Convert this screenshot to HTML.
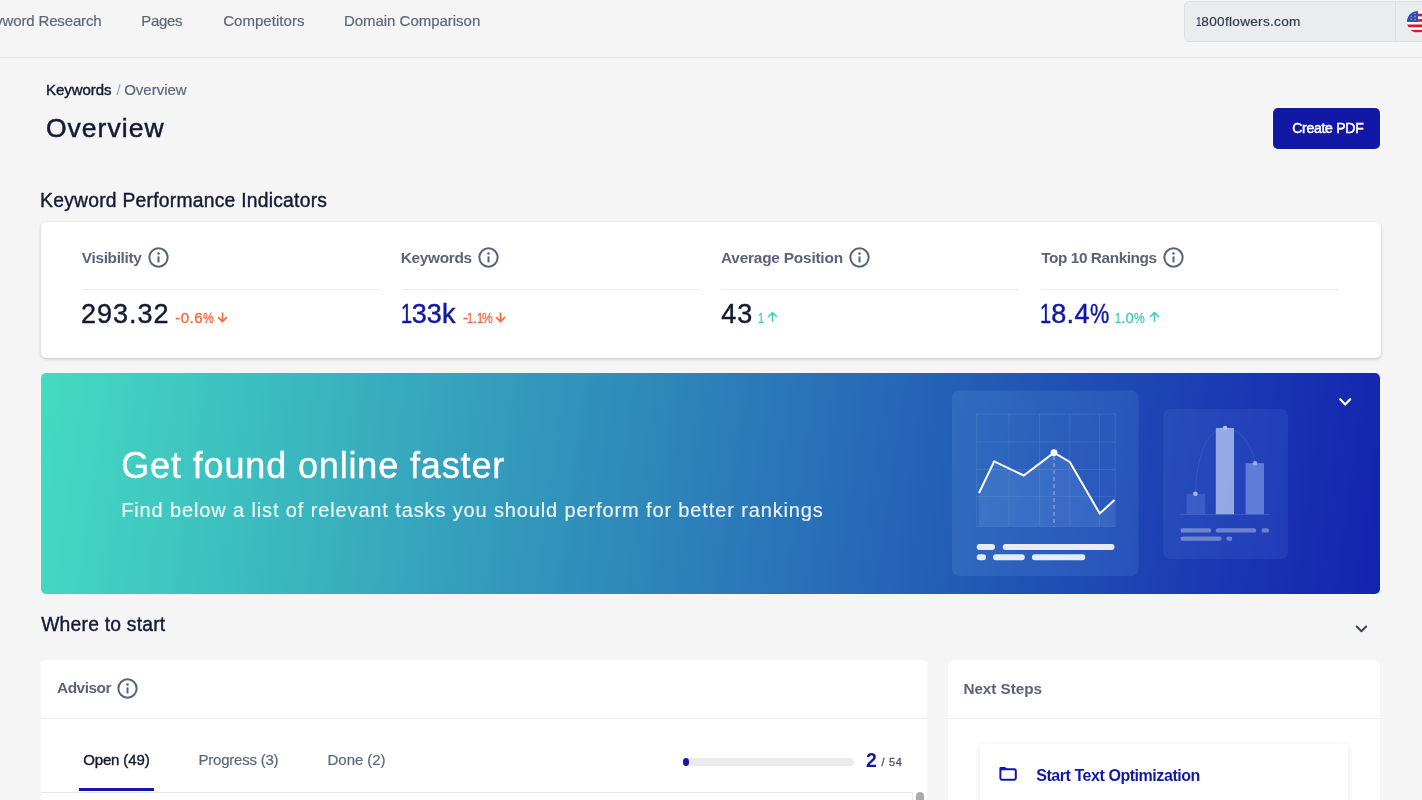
<!DOCTYPE html>
<html lang="en"><head><meta charset="utf-8"><title>Overview - Keywords</title>
<style>
*{margin:0;padding:0;box-sizing:border-box}
html,body{width:1422px;height:800px;overflow:hidden;background:#f5f5f5}
body{font-family:"Liberation Sans",sans-serif}
#app{position:relative;width:1422px;height:800px;overflow:hidden;background:#f5f5f5}
#app>*{position:absolute}
.t{white-space:nowrap;line-height:1.2;display:block;font-weight:400;text-decoration:none}
.pb{display:inline-block;width:0;height:0}
.navline{left:0;top:57px;width:1422px;height:1px;background:#e1e5e8}
.domain{left:1184px;top:1px;width:260px;height:40.5px;background:#ebecee;border:1px solid #dcdfe3;border-radius:5px}
.domain i{position:absolute;left:209.5px;top:0;width:1px;height:39px;background:#dcdfe3}
.flag{left:1407px;top:10.8px;width:21.6px;height:21.6px}
.btn{left:1272.7px;top:108px;width:107px;height:41px;background:#1218a6;border-radius:5px;box-shadow:0 0 0 1px rgba(255,255,255,.6)}
.card{background:#fff;border-radius:5px}
.kpi{left:41px;top:222px;width:1340px;height:136.4px;box-shadow:0 1px 3px rgba(20,25,50,.24)}
.hr{height:1px;background:#e9ebee}
.hero{left:41.2px;top:372.8px;width:1339.3px;height:221.2px;border-radius:5px;background:linear-gradient(98deg,#44dbc2 0%,#1422b0 100%);overflow:hidden}
.advisor{left:41.4px;top:660px;width:885.6px;height:160px}
.next{left:948px;top:660px;width:432px;height:160px}
.inner{left:980px;top:744px;width:368px;height:80px;border-radius:4px;background:#fff;box-shadow:0 1px 6px rgba(0,0,0,.09)}
.tabline{left:78.7px;top:788.4px;width:75.8px;height:2.8px;background:#1218a6}
.prog{left:683px;top:758px;width:171px;height:8px;border-radius:4px;background:#e9ebee}
.prog i{position:absolute;left:0;top:0;width:6.4px;height:8px;border-radius:3.2px/4px;background:#1218a6}
svg{position:absolute;overflow:visible}
.n1{font-weight:inherit;display:inline-block;transform:scaleX(.74);margin:0 -0.09em 0 -0.075em}
.pc{font-weight:inherit;display:inline-block;transform:scaleX(.8);transform-origin:0 50%;margin-right:-0.178em}

</style></head>
<body>
<div id="app">
<div class="navline"></div>
<div class="domain"><i></i></div>
<svg class="flag" viewBox="0 0 21.6 21.6"><defs><clipPath id="fc"><circle cx="10.8" cy="10.8" r="10.8"/></clipPath></defs><g clip-path="url(#fc)"><rect width="21.6" height="21.6" fill="#fff"/><g fill="#e0162b"><rect y="2.7" width="21.6" height="2.7"/><rect y="8.1" width="21.6" height="2.7"/><rect y="13.5" width="21.6" height="2.7"/><rect y="18.9" width="21.6" height="2.7"/></g><rect width="11" height="10.8" fill="#2b4fb9"/><g fill="#8fa3dc"><circle cx="4.2" cy="5.2" r=".8"/><circle cx="8" cy="2.6" r=".8"/><circle cx="8" cy="5.6" r=".8"/><circle cx="4.4" cy="8.4" r=".8"/><circle cx="8" cy="8.6" r=".8"/></g></g></svg>
<div class="btn"></div>

<div class="card kpi"></div>
<div class="hr" style="left:82px;top:289px;width:298px"></div>
<div class="hr" style="left:402px;top:289px;width:298px"></div>
<div class="hr" style="left:721px;top:289px;width:298px"></div>
<div class="hr" style="left:1041px;top:289px;width:298px"></div>

<svg class="ic" style="left:148px;top:247px" width="21" height="21" viewBox="0 0 21 21"><use href="#info"/></svg>
<svg style="left:0;top:0" width="0" height="0"><defs>
<g id="info"><circle cx="10.5" cy="10.5" r="9.15" fill="none" stroke="#56617a" stroke-width="2"/><rect x="9.5" y="9.4" width="2" height="6" fill="#56617a"/><circle cx="10.5" cy="6.5" r="1.3" fill="#56617a"/></g>
<g id="dn"><path d="M5.5 0.4V9.4M1 5.2L5.5 9.6L10 5.2" fill="none" stroke-width="1.7"/></g>
<g id="up"><path d="M5.5 9.8V0.8M1 5L5.5 0.6L10 5" fill="none" stroke-width="1.7"/></g>
</defs></svg>
<svg style="left:477.7px;top:247px" width="21" height="21" viewBox="0 0 21 21"><use href="#info"/></svg>
<svg style="left:848.75px;top:247px" width="21" height="21" viewBox="0 0 21 21"><use href="#info"/></svg>
<svg style="left:1162.75px;top:247px" width="21" height="21" viewBox="0 0 21 21"><use href="#info"/></svg>

<svg style="left:216.8px;top:311.8px" width="11" height="10" viewBox="0 0 11 10" stroke="#f26a3d"><use href="#dn"/></svg>
<svg style="left:495.4px;top:311.8px" width="11" height="10" viewBox="0 0 11 10" stroke="#f26a3d"><use href="#dn"/></svg>
<svg style="left:767px;top:311.8px" width="11" height="10" viewBox="0 0 11 10" stroke="#3fd0b8"><use href="#up"/></svg>
<svg style="left:1148.5px;top:311.8px" width="11" height="10" viewBox="0 0 11 10" stroke="#3fd0b8"><use href="#up"/></svg>

<div class="hero">
<svg style="left:-0.2px;top:0.2px" width="1340" height="221" viewBox="41 373 1340 221">
 <rect x="952" y="390.5" width="186.5" height="185.5" rx="7" fill="#8fd0ff" fill-opacity=".11"/>
 <rect x="1163" y="409" width="125" height="150" rx="7" fill="#8fc0ff" fill-opacity=".09"/>
 <g stroke="#cfe4ff" stroke-opacity=".11" stroke-width="1" fill="none">
  <rect x="976.7" y="414" width="138.5" height="112.5"/>
  <path d="M1009 414V526.5M1039.6 414V526.5M1069.8 414V526.5M1099.4 414V526.5M976.7 442H1115.2M976.7 469.5H1115.2M976.7 496.6H1115.2"/>
 </g>
 <path d="M979 493L994.2 461.4L1023.8 475.5L1054 452.6L1069.8 462L1099.7 513.5L1114.5 500V526.5H979Z" fill="#a8d4ff" fill-opacity=".12"/>
 <path d="M1054 456V526.5" stroke="#fff" stroke-opacity=".5" stroke-width="1" stroke-dasharray="4 3"/>
 <path d="M979 493L994.2 461.4L1023.8 475.5L1054 452.6L1069.8 462L1099.7 513.5L1114.5 500" fill="none" stroke="#fff" stroke-width="2" stroke-linejoin="round"/>
 <circle cx="1054" cy="452.6" r="3.4" fill="#fff"/>
 <g stroke="#fff" stroke-opacity=".88" stroke-width="6" stroke-linecap="round">
  <path d="M979.7 547H992M1005.7 547H1111.5M979.7 557.2H983M996 557.2H1021.8M1034.9 557.2H1082.3"/>
 </g>
 <rect x="1186.6" y="493.8" width="18.6" height="20.4" fill="#8fb4ff" fill-opacity=".2"/>
 <rect x="1215.8" y="428" width="18.2" height="86.2" fill="#dbe6ff" fill-opacity=".62"/>
 <rect x="1245.6" y="463.2" width="18.4" height="51" fill="#a9c6ff" fill-opacity=".45"/>
 <path d="M1195.4 493.8C1197 440 1215 428 1225 428C1240 428 1252 445 1255 463.2" fill="none" stroke="#fff" stroke-opacity=".08" stroke-width="1"/>
 <path d="M1180 514.4H1270" stroke="#fff" stroke-opacity=".12" stroke-width="1"/>
 <circle cx="1195.4" cy="493.8" r="2.3" fill="#aab6e6"/><circle cx="1225" cy="428" r="2.3" fill="#b4bfea"/><circle cx="1255" cy="463.2" r="2.3" fill="#9aa9e2"/>
 <g stroke="#fff" stroke-opacity=".34" stroke-width="4.4" stroke-linecap="round">
  <path d="M1182.8 530.4H1209M1218 530.4H1254M1263.7 530.4H1267M1182.8 538.6H1219.5M1228.5 538.6H1230.1"/>
 </g>
 <path d="M1340.2 399.2L1345.2 404.5L1350.2 399.2" fill="none" stroke="#fff" stroke-width="2.2" stroke-linecap="round" stroke-linejoin="round"/>
</svg>
</div>

<svg style="left:0;top:0" width="1422" height="800" viewBox="0 0 1422 800"><path d="M1356.7 626.5L1361.4 631.3L1366.1 626.5" fill="none" stroke="#3e4960" stroke-width="2" stroke-linecap="round" stroke-linejoin="round"/></svg>

<div class="card advisor"></div>
<svg style="left:117px;top:677.5px" width="21" height="21" viewBox="0 0 21 21"><use href="#info"/></svg>
<div class="hr" style="left:41px;top:718px;width:886px"></div>
<div class="hr" style="left:41px;top:792px;width:872px;background:#e4e6ea"></div>
<div class="hr" style="left:912px;top:792px;width:1px;height:8px;background:#e4e6ea"></div>
<div class="tabline"></div>
<div class="prog"><i></i></div>
<div style="left:916px;top:792px;width:8px;height:12px;border-radius:4px;background:#a9acb3"></div>

<div class="card next"></div>
<div class="hr" style="left:948px;top:718px;width:432px"></div>
<div class="inner"></div>
<svg style="left:999px;top:766px" width="19" height="16" viewBox="0 0 19 16"><rect x="1.4" y="3.3" width="15.4" height="10.4" rx="1.4" fill="none" stroke="#1218a6" stroke-width="2"/><path d="M0.4 4V2.2A1.3 1.3 0 0 1 1.7 0.9H6.1L7.9 2.7V4Z" fill="#1218a6"/></svg>

<a class="t" style="font-size:15px;color:#5d677c;-webkit-text-stroke:0.2px #5d677c;letter-spacing:-0.150px;top:11.75px;left:-22.85px;">Keyword Research</a>
<a class="t" style="font-size:15px;color:#5d677c;-webkit-text-stroke:0.2px #5d677c;letter-spacing:-0.326px;top:11.75px;left:141.30px;">Pages</a>
<a class="t" style="font-size:15px;color:#5d677c;-webkit-text-stroke:0.2px #5d677c;letter-spacing:0.045px;top:11.75px;left:223.17px;">Competitors</a>
<a class="t" style="font-size:15px;color:#5d677c;-webkit-text-stroke:0.2px #5d677c;letter-spacing:-0.023px;top:11.75px;left:343.90px;">Domain Comparison</a>
<span class="t" style="font-size:13.6px;color:#303a50;-webkit-text-stroke:0.2px #303a50;letter-spacing:0.299px;top:14.00px;left:1195.69px;"><b class="n1">1</b>800flowers.com</span>
<span class="t" style="font-size:15px;color:#141a33;-webkit-text-stroke:0.4px #141a33;letter-spacing:-0.051px;top:81.00px;left:45.94px;">Keywords</span>
<span class="t" style="font-size:15px;color:#9aa1ae;top:81.00px;left:116.43px;">/</span>
<span class="t" style="font-size:15px;color:#5d677c;-webkit-text-stroke:0.2px #5d677c;letter-spacing:-0.001px;top:81.00px;left:124.20px;">Overview</span>
<h1 class="t" style="font-size:26.5px;color:#141a33;-webkit-text-stroke:0.5px #141a33;letter-spacing:1.036px;top:113.00px;left:45.92px;">Overview</h1>
<label class="t" style="font-size:14px;color:#ffffff;-webkit-text-stroke:0.5px #ffffff;letter-spacing:-0.261px;top:119.80px;left:1292.20px;">Create PDF</label>
<h2 class="t" style="font-size:19.3px;color:#141a33;-webkit-text-stroke:0.4px #141a33;letter-spacing:0.248px;top:188.50px;left:40.09px;">Keyword Performance Indicators</h2>
<h3 class="t" style="font-size:15.4px;color:#5a6479;font-weight:700;letter-spacing:-0.338px;top:248.80px;left:81.84px;">Visibility</h3>
<span class="t" style="font-size:15.4px;color:#5a6479;font-weight:700;letter-spacing:-0.301px;top:248.80px;left:400.73px;">Keywords</span>
<h3 class="t" style="font-size:15.4px;color:#5a6479;font-weight:700;letter-spacing:-0.203px;top:248.80px;left:720.95px;">Average Position</h3>
<h3 class="t" style="font-size:15.4px;color:#5a6479;font-weight:700;letter-spacing:-0.430px;top:248.80px;left:1041.15px;">Top 10 Rankings</h3>
<span class="t" style="font-size:27px;color:#141a33;-webkit-text-stroke:0.45px #141a33;letter-spacing:1.008px;top:298.00px;left:80.91px;">293.32</span>
<span class="t" style="font-size:27px;color:#1218a6;-webkit-text-stroke:0.45px #1218a6;letter-spacing:0.210px;top:298.00px;left:400.84px;"><b class="n1">1</b>33k</span>
<span class="t" style="font-size:27px;color:#141a33;-webkit-text-stroke:0.45px #141a33;letter-spacing:0.859px;top:298.00px;left:721.34px;">43</span>
<span class="t" style="font-size:27px;color:#1218a6;-webkit-text-stroke:0.45px #1218a6;letter-spacing:0.378px;top:298.00px;left:1040.24px;"><b class="n1">1</b>8.4<b class="pc">%</b></span>
<span class="t" style="font-size:15.1px;color:#f26a3d;-webkit-text-stroke:0.35px #f26a3d;letter-spacing:0.418px;top:308.80px;left:175.29px;">-0.6<b class="pc">%</b></span>
<span class="t" style="font-size:15.1px;color:#f26a3d;-webkit-text-stroke:0.35px #f26a3d;letter-spacing:-0.505px;top:308.80px;left:463.04px;">-<b class="n1">1</b>.<b class="n1">1</b><b class="pc">%</b></span>
<span class="t" style="font-size:15.1px;color:#3fd0b8;-webkit-text-stroke:0.35px #3fd0b8;top:308.80px;left:758.43px;"><b class="n1">1</b></span>
<span class="t" style="font-size:15.1px;color:#3fd0b8;-webkit-text-stroke:0.35px #3fd0b8;letter-spacing:0.159px;top:308.80px;left:1115.18px;"><b class="n1">1</b>.0<b class="pc">%</b></span>
<h2 class="t" style="font-size:36px;color:#ffffff;-webkit-text-stroke:0.4px #ffffff;letter-spacing:0.854px;top:444.00px;left:121.23px;">Get found online faster</h2>
<p class="t" style="font-size:20px;color:rgba(255,255,255,.9);-webkit-text-stroke:0.15px rgba(255,255,255,.9);letter-spacing:0.870px;top:498.00px;left:121.23px;">Find below a list of relevant tasks you should perform for better rankings</p>
<h2 class="t" style="font-size:19.3px;color:#141a33;-webkit-text-stroke:0.4px #141a33;letter-spacing:0.222px;top:612.90px;left:41.19px;">Where to start</h2>
<h3 class="t" style="font-size:15.4px;color:#5a6479;font-weight:700;letter-spacing:-0.471px;top:679.40px;left:57.00px;">Advisor</h3>
<a class="t" style="font-size:15px;color:#141a33;-webkit-text-stroke:0.4px #141a33;letter-spacing:-0.130px;top:750.90px;left:83.17px;">Open (49)</a>
<a class="t" style="font-size:15px;color:#5d677c;-webkit-text-stroke:0.2px #5d677c;letter-spacing:-0.222px;top:750.90px;left:198.50px;">Progress (3)</a>
<a class="t" style="font-size:15px;color:#5d677c;-webkit-text-stroke:0.2px #5d677c;letter-spacing:-0.052px;top:750.90px;left:327.60px;">Done (2)</a>
<span class="t" style="font-size:19.5px;color:#1218a6;font-weight:700;top:748.50px;left:865.96px;">2</span>
<span class="t" style="font-size:11px;color:#4a5468;-webkit-text-stroke:0.3px #4a5468;letter-spacing:0.675px;top:756.30px;left:881.46px;">/ 54</span>
<h3 class="t" style="font-size:15.3px;color:#5a6479;font-weight:700;letter-spacing:-0.043px;top:680.10px;left:963.39px;">Next Steps</h3>
<a class="t" style="font-size:16px;color:#1218a6;font-weight:700;letter-spacing:-0.445px;top:765.80px;left:1036.23px;">Start Text Optimization</a>
</div>
</body></html>
